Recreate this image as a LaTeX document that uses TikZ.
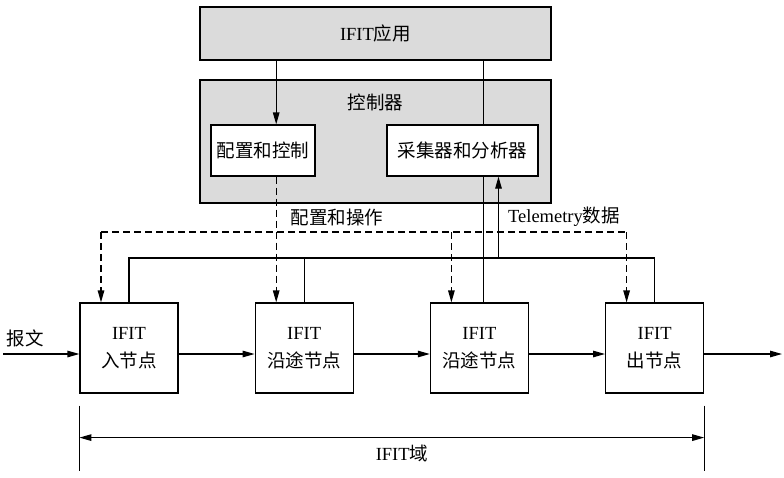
\documentclass[tikz,border=0pt]{standalone}
\usepackage{fontspec}
\setmainfont{Liberation Serif}
\newfontfamily\zhfont{Noto Sans CJK SC}
\usetikzlibrary{arrows.meta,positioning}
\newcommand{\zh}[1]{{\zhfont #1}}

\begin{document}
\begin{tikzpicture}[
  x=1pt,y=-1pt,
  node distance=76pt,
  font=\fontsize{18.5pt}{28pt}\selectfont,
  line width=1.2pt,
  panel/.style={rectangle,draw,fill=black!14,minimum width=351pt,inner sep=0pt},
  unit/.style={rectangle,draw,fill=white,minimum height=51pt,inner sep=0pt},
  ifit/.style={rectangle,draw,fill=white,minimum width=98pt,minimum height=90pt,
               align=center,inner sep=0pt},
  arr/.style={-{Triangle[length=12pt,width=6.5pt]}},
  dline/.style={dash pattern=on 7pt off 4pt},
  darr/.style={arr,dline},
  dom/.style={{Triangle[length=12pt,width=6.5pt]}-{Triangle[length=12pt,width=6.5pt]}},
]
\useasboundingbox (0,0) rectangle (784,477);

% controller side
\node[panel,minimum height=53pt]  (app)  at (375.5,33.5)  {IFIT\zh{应用}};
\node[panel,minimum height=123pt] (ctrl) at (375.5,141.5) {};
\node (ctrltitle) at (375.5,102) {\zh{控制器}};
\node[unit,minimum width=104pt] (cfg) at (263,150.5)   {\zh{配置和控制}};
\node[unit,minimum width=151pt] (col) at (462.5,150.5) {\zh{采集器和分析器}};

% IFIT nodes
\node[ifit] (n1) at (129,348)   {IFIT\\\zh{入节点}};
\node[ifit,right=of n1] (n2)    {IFIT\\\zh{沿途节点}};
\node[ifit,right=of n2] (n3)    {IFIT\\\zh{沿途节点}};
\node[ifit,right=of n3] (n4)    {IFIT\\\zh{出节点}};

\coordinate (cfgbus) at (0,232);
\coordinate (telbus) at (0,258);
\coordinate (d1) at ([xshift=-28pt]n1.north);
\coordinate (d2) at ([xshift=-28pt]n2.north);
\coordinate (d3) at ([xshift=-28pt]n3.north);
\coordinate (d4) at ([xshift=-28pt]n4.north);
\coordinate (up3) at ([xshift=4pt]n3.north);
\coordinate (tel) at ([xshift=36pt]col.south);

% config and operation (dashed)
\draw[arr]  (app.south -| d2) -- (cfg.north -| d2);
\draw[darr] (cfg.south -| d2) -- (d2);
\draw[dline] (d1 |- cfgbus) -- (d4 |- cfgbus);
\draw[darr] (d1 |- cfgbus) -- (d1);
\draw[darr] (d3 |- cfgbus) -- (d3);
\draw[darr] (d4 |- cfgbus) -- (d4);
\node (cfglabel) at (337,217) {\zh{配置和操作}};

% telemetry
\draw (n1.north) |- (n4.north |- telbus) -- (n4.north);
\draw (n2.north) -- (n2.north |- telbus);
\draw (app.south -| up3) -- (col.north -| up3);
\draw (col.south -| up3) -- (up3);
\draw[arr] (tel |- telbus) -- (tel);
\node (tellabel) at (564,217) {Telemetry\zh{数据}};

% packet flow
\coordinate (in)  at (3,354);
\coordinate (out) at (782,354);
\node (pkt) at (25,338) {\zh{报文}};
\draw[arr] (in) -- (in -| n1.west);
\draw[arr] ([yshift=-6pt]n1.east) -- ([yshift=-6pt]n2.west);
\draw[arr] ([yshift=-6pt]n2.east) -- ([yshift=-6pt]n3.west);
\draw[arr] ([yshift=-6pt]n3.east) -- ([yshift=-6pt]n4.west);
\draw[arr] ([yshift=-6pt]n4.east) -- (out);

% domain
\coordinate (domL) at ([yshift=-12pt]n1.south west);
\coordinate (domR) at ([yshift=-12pt]n4.south east);
\draw[line width=0.8pt] (domL) -- ++(0,65);
\draw[line width=0.8pt] (domR) -- ++(0,65);
\draw[dom] ([yshift=-32pt]domL) -- ([yshift=-32pt]domR);
\node (domlabel) at (402,453) {IFIT\zh{域}};

\end{tikzpicture}
\end{document}
